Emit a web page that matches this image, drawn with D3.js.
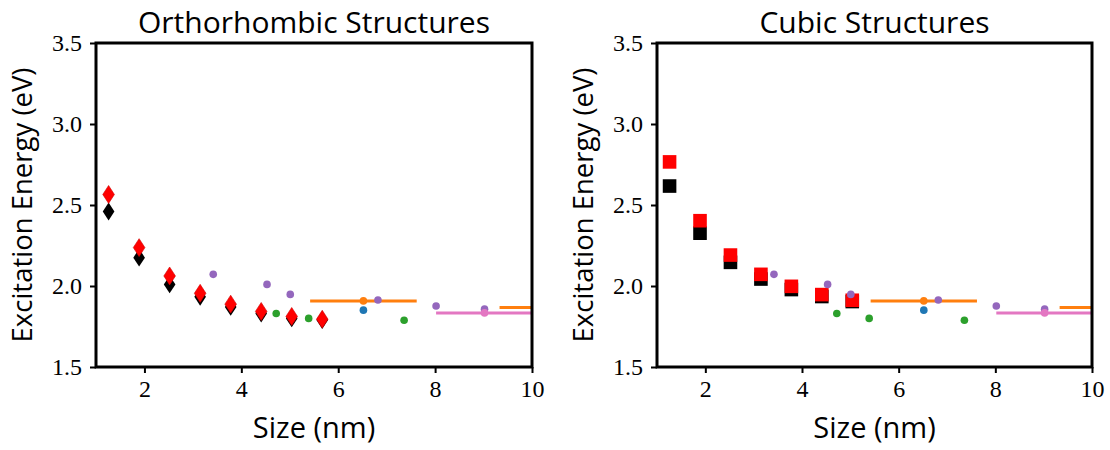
<!DOCTYPE html>
<html>
<head>
<meta charset="utf-8">
<script src="https://cdn.jsdelivr.net/npm/d3@7"></script>
<style>
  body { margin: 0; background: #fff; }
  .tick text { font-family: "Liberation Serif", serif; font-size: 24px; fill: #000; }
  .lbl { font-family: "Open Sans", sans-serif; fill: #000; }
</style>
</head>
<body>
<div id="container"></div>
<script>
// calculated sizes (nm) and energies (eV)
const orthoSizes = [1.26, 1.89, 2.52, 3.15, 3.78, 4.41, 5.04, 5.67];
const orthoBlack = [2.46, 2.175, 2.01, 1.933, 1.871, 1.830, 1.80, 1.79];
const orthoRed = [2.565, 2.237, 2.062, 1.955, 1.888, 1.843, 1.812, 1.795];

const cubicSizes = [1.26, 1.89, 2.52, 3.15, 3.78, 4.41, 5.04];
const cubicBlack = [2.617, 2.326, 2.146, 2.043, 1.978, 1.935, 1.904];
const cubicRed = [2.766, 2.403, 2.191, 2.072, 1.998, 1.947, 1.912];

// experimental points, same on both panels
const purpleX = [3.42, 4.53, 5.01, 6.82, 8.02, 9.02];
const purpleY = [2.072, 2.010, 1.948, 1.914, 1.877, 1.857];
const greenX = [4.72, 5.39, 7.36];
const greenY = [1.830, 1.800, 1.789];
const blueX = [6.52];
const blueY = [1.851];
const orangeMid = [6.52, 10.4];
const orangeHalf = [1.10, 1.07];
const orangeY = [1.908, 1.867];
const pinkMid = [9.02];
const pinkHalf = [1.0];
const pinkY = [1.834];

const xTicks = [2, 4, 6, 8, 10];
const yTicks = [1.5, 2.0, 2.5, 3.0, 3.5];

const titles = ['Orthorhombic Structures', 'Cubic Structures'];

const W = 1110, H = 450;
const svg = d3.select('#container').append('svg')
    .attr('width', W).attr('height', H);

const thinDiamond = {
    draw(ctx, size) {
        const h = Math.sqrt(size) * 1.3, w = h * 0.65;
        ctx.moveTo(0, -h / 2);
        ctx.lineTo(w / 2, 0);
        ctx.lineTo(0, h / 2);
        ctx.lineTo(-w / 2, 0);
        ctx.closePath();
    }
};

const drawPanel = (idx, left, right, sizes, black, red, marker) => {
    const top = 43, bottom = 367;
    const x = d3.scaleLinear().domain([1, 10]).range([left, right]);
    const y = d3.scaleLinear().domain([1.5, 3.5]).range([bottom, top]);
    const g = svg.append('g');

    g.append('clipPath').attr('id', 'clip' + idx)
        .append('rect')
        .attr('x', left).attr('y', top)
        .attr('width', right - left).attr('height', bottom - top);

    const plot = g.append('g').attr('clip-path', `url(#clip${idx})`);

    const sym = marker === 'd'
        ? d3.symbol().type(thinDiamond).size(190)
        : d3.symbol().type(d3.symbolSquare).size(185);

    plot.selectAll('.blk').data(sizes).enter()
        .append('path')
        .attr('d', sym)
        .attr('transform', (d, i) => `translate(${x(d)},${y(black[i])})`)
        .attr('fill', '#000');

    plot.selectAll('.red').data(sizes).enter()
        .append('path')
        .attr('d', sym)
        .attr('transform', (d, i) => `translate(${x(d)},${y(red[i])})`)
        .attr('fill', '#ff0000')
        .attr('stroke', marker === 'd' ? '#d00000' : 'none')
        .attr('stroke-width', 0.6);

    // orange ranges
    plot.selectAll('.oline').data(orangeMid).enter()
        .append('line')
        .attr('x1', (d, i) => x(d - orangeHalf[i]))
        .attr('x2', (d, i) => x(d + orangeHalf[i]))
        .attr('y1', (d, i) => y(orangeY[i]))
        .attr('y2', (d, i) => y(orangeY[i]))
        .attr('stroke', '#ff7f0e').attr('stroke-width', 3);
    plot.selectAll('.odot').data(orangeMid).enter()
        .append('circle')
        .attr('cx', d => x(d))
        .attr('cy', (d, i) => y(orangeY[i]))
        .attr('r', 3.8).attr('fill', '#ff7f0e');

    const dots = (xs, ys, color) => {
        plot.append('g').selectAll('circle').data(xs).enter()
            .append('circle')
            .attr('cx', d => x(d))
            .attr('cy', (d, i) => y(ys[i]))
            .attr('r', 3.8).attr('fill', color);
    };
    dots(blueX, blueY, '#1f77b4');
    dots(greenX, greenY, '#2ca02c');
    dots(purpleX, purpleY, '#9467bd');

    plot.selectAll('.pline').data(pinkMid).enter()
        .append('line')
        .attr('x1', (d, i) => x(d - pinkHalf[i]))
        .attr('x2', (d, i) => x(d + pinkHalf[i]))
        .attr('y1', (d, i) => y(pinkY[i]))
        .attr('y2', (d, i) => y(pinkY[i]))
        .attr('stroke', '#e377c2').attr('stroke-width', 3);
    dots(pinkMid, pinkY, '#e377c2');

    // frame
    g.append('rect')
        .attr('x', left).attr('y', top)
        .attr('width', right - left).attr('height', bottom - top)
        .attr('fill', 'none').attr('stroke', '#000').attr('stroke-width', 3);

    const xAxis = g.append('g')
        .attr('transform', `translate(0,${bottom})`)
        .call(d3.axisBottom(x).tickValues(xTicks).tickSize(6).tickPadding(5).tickFormat(d3.format('d')));
    const yAxis = g.append('g')
        .attr('transform', `translate(${left},0)`)
        .call(d3.axisLeft(y).tickValues(yTicks).tickSize(6).tickPadding(8).tickFormat(d3.format('.1f')));
    [xAxis, yAxis].forEach(a => {
        a.select('.domain').remove();
        a.selectAll('.tick line').attr('stroke', '#000').attr('stroke-width', 2);
        a.selectAll('.tick text').attr('font-family', null).attr('font-size', null);
    });
    xAxis.selectAll('.tick text').attr('dy', '0.8em');
    yAxis.selectAll('.tick text').attr('dy', '0.3em');

    g.append('text').attr('class', 'lbl')
        .attr('x', (left + right) / 2).attr('y', 33)
        .attr('text-anchor', 'middle')
        .attr('font-size', 30)
        .text(titles[idx]);

    g.append('text').attr('class', 'lbl')
        .attr('x', (left + right) / 2).attr('y', 438)
        .attr('text-anchor', 'middle')
        .attr('font-size', 29)
        .text('Size (nm)');

    g.append('text').attr('class', 'lbl')
        .attr('transform', `translate(${left - 64},${(top + bottom) / 2}) rotate(-90)`)
        .attr('text-anchor', 'middle')
        .attr('font-size', 27.5)
        .text('Excitation Energy (eV)');
};

drawPanel(0, 96, 532, orthoSizes, orthoBlack, orthoRed, 'd');
drawPanel(1, 657, 1092, cubicSizes, cubicBlack, cubicRed, 's');
</script>
</body>
</html>
